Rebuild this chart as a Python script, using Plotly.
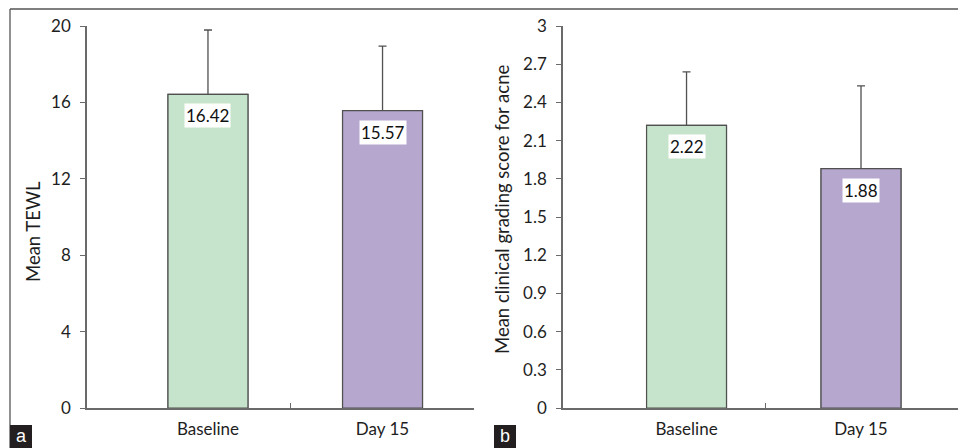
import plotly.graph_objects as go

# ---- data ----
categories = ["Baseline", "Day 15"]
tewl_mean = [16.42, 15.57]
tewl_sd = [3.37, 3.38]
acne_mean = [2.22, 1.88]
acne_sd = [0.42, 0.65]
bar_colors = ["#C6E4CB", "#B5A7CE"]
tewl_ticks = [0, 4, 8, 12, 16, 20]
acne_ticks = [0, 0.3, 0.6, 0.9, 1.2, 1.5, 1.8, 2.1, 2.4, 2.7, 3]
acne_ticktext = ["0", "0.3", "0.6", "0.9", "1.2", "1.5", "1.8", "2.1", "2.4", "2.7", "3"]

W, H = 966, 448
OFF = 8  # page body margin: the figure starts 8 px right and down in the window
FONT = "Lato"
TXT = "#1e1e1e"
AX = "#6a6a6a"
xpos = list(range(len(categories)))

fig = go.Figure()

def add_panel(xa, ya, means, sds):
    # error bars (drawn from the base so that the covering bar hides the lower part)
    fig.add_trace(go.Bar(
        x=xpos, y=means, width=0.458,
        marker=dict(color=bar_colors, line=dict(color="#505050", width=1.2)),
        error_y=dict(type="data", array=sds, arrayminus=means, symmetric=False,
                     color="#505050", thickness=1.3, width=4),
        xaxis=xa, yaxis=ya, showlegend=False, hoverinfo="skip"))
    # bars on top
    fig.add_trace(go.Bar(
        x=xpos, y=means, width=0.458,
        marker=dict(color=bar_colors, line=dict(color="#505050", width=1.2)),
        xaxis=xa, yaxis=ya, showlegend=False, hoverinfo="skip"))
    for xv, m in zip(xpos, means):
        fig.add_annotation(x=xv, y=m, xref=xa, yref=ya, text=f"{m:.2f}",
                           showarrow=False, yanchor="top", xanchor="center", yshift=-9,
                           bgcolor="white", borderpad=1,
                           font=dict(family=FONT, size=17, color="#111111"))

add_panel("x", "y", tewl_mean, tewl_sd)
add_panel("x2", "y2", acne_mean, acne_sd)

def px_x(p):
    return (p - OFF) / W

def px_y(p):
    return 1 - (p - OFF) / H

ydom = [px_y(408), px_y(26)]
common_y = dict(showgrid=False, zeroline=False, showline=True, linecolor=AX, linewidth=1.5,
                ticks="outside", ticklen=5, tickcolor=AX, tickwidth=1.3, automargin=False,
                tickfont=dict(family=FONT, size=17, color=TXT), ticklabelstandoff=6,
                domain=ydom)
common_x = dict(showgrid=False, zeroline=False, showline=True, linecolor=AX, linewidth=1.5,
                ticks="", tickvals=xpos, ticktext=categories, automargin=False,
                tickfont=dict(family=FONT, size=17, color=TXT), ticklabelstandoff=5)

fig.update_layout(
    width=W, height=H, margin=dict(l=0, r=0, t=0, b=0, autoexpand=False),
    paper_bgcolor="white", plot_bgcolor="white", barmode="overlay", showlegend=False,
    xaxis=dict(**common_x, domain=[px_x(87), px_x(474)], range=[-0.693, 1.524], anchor="y"),
    yaxis=dict(**common_y, range=[0, 20], tickvals=tewl_ticks, anchor="x"),
    xaxis2=dict(**common_x, domain=[px_x(563), px_x(965)], range=[-0.708, 1.596], anchor="y2"),
    yaxis2=dict(**common_y, range=[0, 3], tickvals=acne_ticks, ticktext=acne_ticktext, anchor="x2"),
    # overlay axes for the inside tick marks on the category axes
    xaxis3=dict(overlaying="x", range=[-0.693, 1.524], tickvals=[0.47, 1.524], ticks="inside",
                ticklen=5, tickcolor=AX, tickwidth=1.3, showticklabels=False, showgrid=False,
                zeroline=False, showline=False, anchor="y", side="bottom", automargin=False),
    xaxis4=dict(overlaying="x2", range=[-0.708, 1.596], tickvals=[0.45, 1.596], ticks="inside",
                ticklen=5, tickcolor=AX, tickwidth=1.3, showticklabels=False, showgrid=False,
                zeroline=False, showline=False, anchor="y2", side="bottom", automargin=False),
)
# dummy traces to activate overlay axes
fig.add_trace(go.Scatter(x=[None], y=[None], xaxis="x3", yaxis="y", showlegend=False))
fig.add_trace(go.Scatter(x=[None], y=[None], xaxis="x4", yaxis="y2", showlegend=False))

# axis titles
fig.add_annotation(x=px_x(33), y=px_y(232), xref="paper", yref="paper", text="Mean TEWL",
                   textangle=-90, showarrow=False, xanchor="center", yanchor="middle",
                   font=dict(family=FONT, size=18.5, color=TXT))
fig.add_annotation(x=px_x(502), y=px_y(210), xref="paper", yref="paper",
                   text="Mean clinical grading score for acne",
                   textangle=-90, showarrow=False, xanchor="center", yanchor="middle",
                   font=dict(family=FONT, size=18.5, color=TXT))

# frame (top and left)
fig.add_shape(type="line", xref="paper", yref="paper", x0=px_x(10), x1=px_x(966), y0=px_y(9), y1=px_y(9),
              line=dict(color="#555555", width=1.3))
fig.add_shape(type="line", xref="paper", yref="paper", x0=px_x(10), x1=px_x(10), y0=px_y(9), y1=px_y(448),
              line=dict(color="#555555", width=1.3))

# panel letters
for lbl, x0 in [("a", 10), ("b", 494)]:
    fig.add_shape(type="rect", xref="paper", yref="paper", x0=px_x(x0), x1=px_x(x0 + 22),
                  y0=px_y(448), y1=px_y(425), fillcolor="#231F20", line=dict(width=0))
    fig.add_annotation(x=px_x(x0 + 11), y=px_y(436), xref="paper", yref="paper", text=lbl,
                       showarrow=False, xanchor="center", yanchor="middle",
                       font=dict(family="Liberation Sans", size=18, color="white"))

fig.write_html("out.html")
